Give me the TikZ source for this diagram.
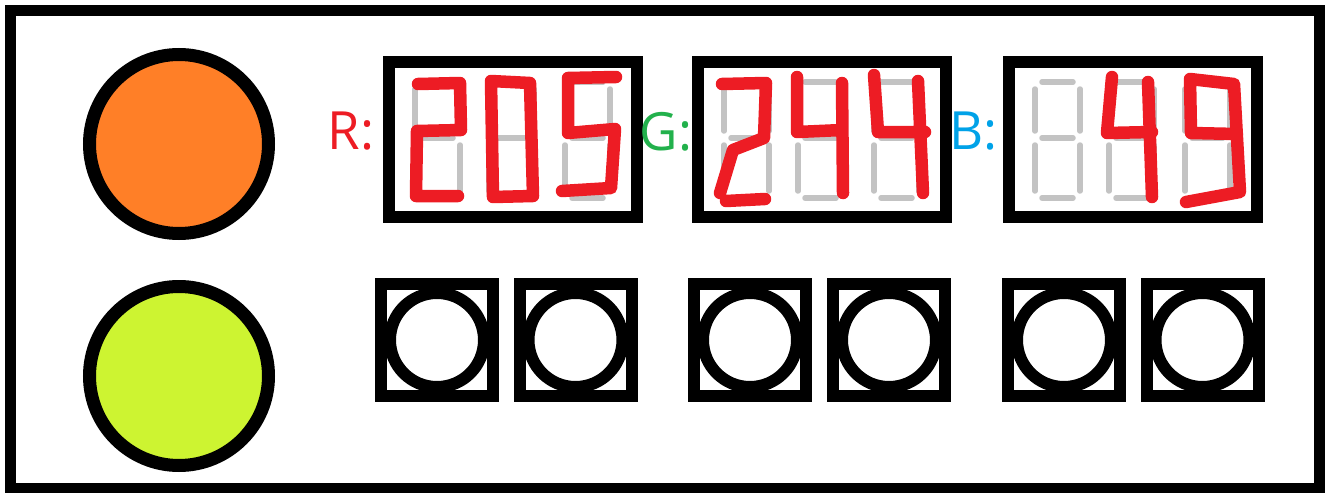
\documentclass[tikz,border=0pt]{standalone}
\usepackage{fontspec}
\setmainfont{Open Sans}
\usetikzlibrary{positioning}
\definecolor{lampOrange}{RGB}{255,127,39}
\definecolor{lampLime}{RGB}{205,244,49}
\definecolor{segRed}{RGB}{237,28,36}
\definecolor{segGray}{RGB}{195,195,195}
\definecolor{lblGreen}{RGB}{34,177,76}
\definecolor{lblBlue}{RGB}{0,162,232}
\tikzset{
  panel/.style={draw,line width=1.1mm,minimum width=130.9mm,minimum height=47.8mm,inner sep=0pt},
  lamp/.style={circle,draw,line width=1.3mm,fill=#1,minimum size=17.9mm,inner sep=0pt},
  display/.style={draw,line width=1.2mm,minimum width=24.8mm,minimum height=15.5mm,inner sep=0pt},
  button/.style={draw,line width=1.2mm,minimum width=11.2mm,minimum height=11.2mm,inner sep=0pt},
  knob/.style={circle,draw,line width=1.2mm,minimum size=9.4mm,inner sep=0pt},
  seg/.style={segGray,line width=0.55mm,line cap=round},
  pen/.style={segRed,line width=1.25mm,line cap=round,line join=round},
  chan/.style={font=\fontsize{15}{17}\selectfont,text=#1,inner sep=0pt},
  % unlit 7-segment digit
  pics/blank/.style={code={
    \draw[seg] (7,0) -- (38,0) (7,56) -- (38,56) (7,116) -- (38,116)
      (0,7) -- (0,49) (45,7) -- (45,49) (0,63) -- (0,109) (45,63) -- (45,109);
  }},
}
\begin{document}
\begin{tikzpicture}[x=0.1mm,y=-0.1mm]
  \useasboundingbox (0,0) rectangle (1329,493);
  \node[panel] (case) at (664.5,249) {};
  % lamps
  \node[lamp=lampOrange] (lampTop) at (179,144) {};
  \node[lamp=lampLime] (lampBot) at (179,376) {};
  % displays
  \node[display] (dispR) at (513,139) {};
  \node[display] (dispG) at (822,139) {};
  \node[display] (dispB) at (1133,139) {};
  \node[chan=segRed,left=0.8mm of dispR,yshift=0.75mm] (labR) {R:};
  \node[chan=lblGreen,left=-0.1mm of dispG,yshift=0.75mm] (labG) {G:};
  \node[chan=lblBlue,left=0.45mm of dispB,yshift=0.75mm] (labB) {B:};
  \foreach \bx in {389,698,1009}
    \foreach \off in {26,100,176}
      \pic at (\bx+\off,82) {blank};
  % lit digits
  \draw[pen] (418,84) -- (460,83) -- (461,130) -- (417,131) -- (416,196) -- (458,196);
  \draw[pen] (491,81) -- (530,83) -- (533,196) -- (493,197) -- cycle;
  \draw[pen] (616,77) -- (568,78) -- (568,133) -- (615,129) -- (611,188) -- (562,191);
  \draw[pen] (722,84) -- (766,83) -- (764,138) -- (733,150) -- (720,193)
    (726,201) -- (765,199);
  \draw[pen] (797,77) -- (797,132) -- (842,130) (842,83) -- (843,193);
  \draw[pen] (874,75) -- (878,132) -- (925,132) (918,81) -- (923,193);
  \draw[pen] (1112,77) -- (1107,133) -- (1152,132) (1148,82) -- (1152,197);
  \draw[pen] (1237,134) -- (1191,133) -- (1190,79) -- (1234,84) -- (1240,192) -- (1186,202);
  % buttons
  \foreach \x [count=\i] in {437,575.5,750,889,1064,1202.5} {
    \node[button] (btn\i) at (\x,340) {};
    \node[knob] (knob\i) at (btn\i) {};
  }
\end{tikzpicture}
\end{document}
